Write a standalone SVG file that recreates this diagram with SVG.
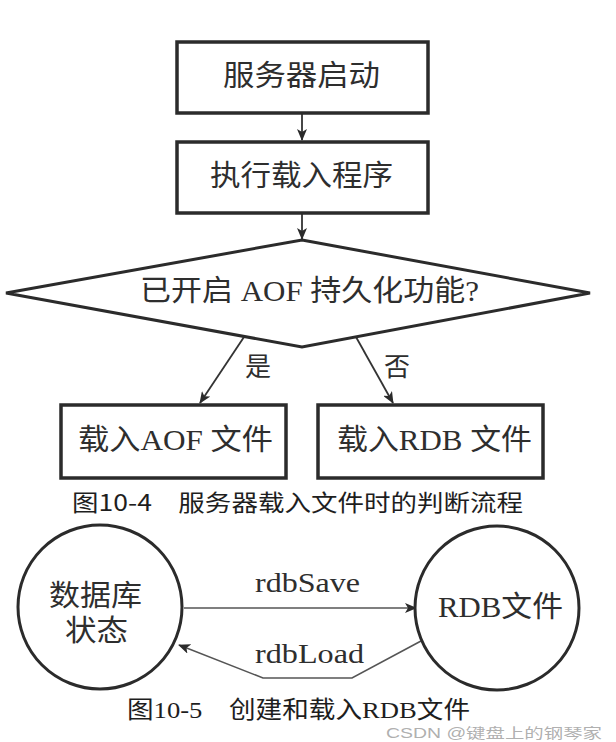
<svg xmlns="http://www.w3.org/2000/svg" width="616" height="742" viewBox="0 0 616 742">
<defs>
<style>
.node{fill:#fff;stroke:#2b2b2b;stroke-width:3.5}
.circ{fill:#fff;stroke:#2b2b2b;stroke-width:3}
.t{font-family:"Liberation Serif","Noto Sans CJK SC",serif;fill:#2e2e2e}
.cap{font-family:"Noto Sans CJK SC","Noto Sans",sans-serif;fill:#1e1e1e}
.cap2{font-family:"Liberation Serif","Noto Sans CJK SC",serif;fill:#1e1e1e}
.edge{fill:none;stroke:#333;stroke-width:1.8}
.edge2{fill:none;stroke:#555;stroke-width:1.6}
.wm{font-family:"Liberation Sans","Noto Sans CJK SC",sans-serif;fill:#9a9a9a;fill-opacity:0.8}
</style>
<marker id="arr" viewBox="0 0 12 10" refX="11" refY="5" markerWidth="12" markerHeight="10" markerUnits="userSpaceOnUse" orient="auto">
<path d="M0,0 L12,5 L0,10 L3,5 z" fill="#2b2b2b"/>
</marker>
</defs>
<rect width="616" height="742" fill="#fff"/>

<g id="connectors">
<line class="edge" x1="302" y1="114" x2="302" y2="140" marker-end="url(#arr)"/>
<line class="edge" x1="302" y1="214" x2="302" y2="239" marker-end="url(#arr)"/>
<line class="edge" x1="244" y1="337" x2="200" y2="403" marker-end="url(#arr)"/>
<line class="edge" x1="356" y1="337" x2="393" y2="403" marker-end="url(#arr)"/>
<line class="edge2" x1="184" y1="608" x2="416" y2="608" marker-end="url(#arr)"/>
<polyline class="edge2" points="421,641 352,678 263,678 179,645" marker-end="url(#arr)"/>
<text class="t" x="245" y="376" font-size="26">是</text>
<text class="t" x="384" y="376" font-size="26">否</text>
<text class="t" x="255" y="592" font-size="28" textLength="105" lengthAdjust="spacingAndGlyphs">rdbSave</text>
<text class="t" x="255" y="663" font-size="28" textLength="109" lengthAdjust="spacingAndGlyphs">rdbLoad</text>
</g>

<g id="start">
<rect class="node" x="177" y="42" width="251" height="71"/>
<text class="t" x="223" y="86" font-size="29" textLength="157" lengthAdjust="spacingAndGlyphs">服务器启动</text>
</g>

<g id="load">
<rect class="node" x="177" y="142" width="251" height="71"/>
<text class="t" x="210" y="186" font-size="29" textLength="183" lengthAdjust="spacingAndGlyphs">执行载入程序</text>
</g>

<g id="decision">
<polygon class="node" style="stroke-width:3" points="302,240 590,293 302,347 6,293"/>
<text class="t" x="140" y="301" font-size="29" textLength="339" lengthAdjust="spacingAndGlyphs">已开启 AOF 持久化功能?</text>
</g>

<g id="aof">
<rect class="node" x="61" y="405" width="225" height="73"/>
<text class="t" x="78" y="450" font-size="29" textLength="195" lengthAdjust="spacingAndGlyphs">载入AOF 文件</text>
</g>

<g id="rdb">
<rect class="node" x="318" y="405" width="225" height="73"/>
<text class="t" x="337" y="450" font-size="29" textLength="195" lengthAdjust="spacingAndGlyphs">载入RDB 文件</text>
</g>

<text class="cap" x="72" y="511" font-size="23" textLength="451" lengthAdjust="spacingAndGlyphs">图10-4　服务器载入文件时的判断流程</text>

<g id="dbstate">
<circle class="circ" cx="100" cy="607" r="82"/>
<text class="t" x="49" y="606" font-size="29" textLength="93" lengthAdjust="spacingAndGlyphs">数据库</text>
<text class="t" x="65" y="641" font-size="29" textLength="63" lengthAdjust="spacingAndGlyphs">状态</text>
</g>

<g id="rdbfile">
<circle class="circ" cx="497" cy="608" r="82"/>
<text class="t" x="438" y="617" font-size="29" textLength="125" lengthAdjust="spacingAndGlyphs">RDB文件</text>
</g>

<text class="cap2" x="127" y="718" font-size="24" textLength="343" lengthAdjust="spacingAndGlyphs">图10-5　创建和载入RDB文件</text>
<text class="wm" x="386" y="738" font-size="14" textLength="216" lengthAdjust="spacingAndGlyphs">CSDN @键盘上的钢琴家</text>
</svg>
